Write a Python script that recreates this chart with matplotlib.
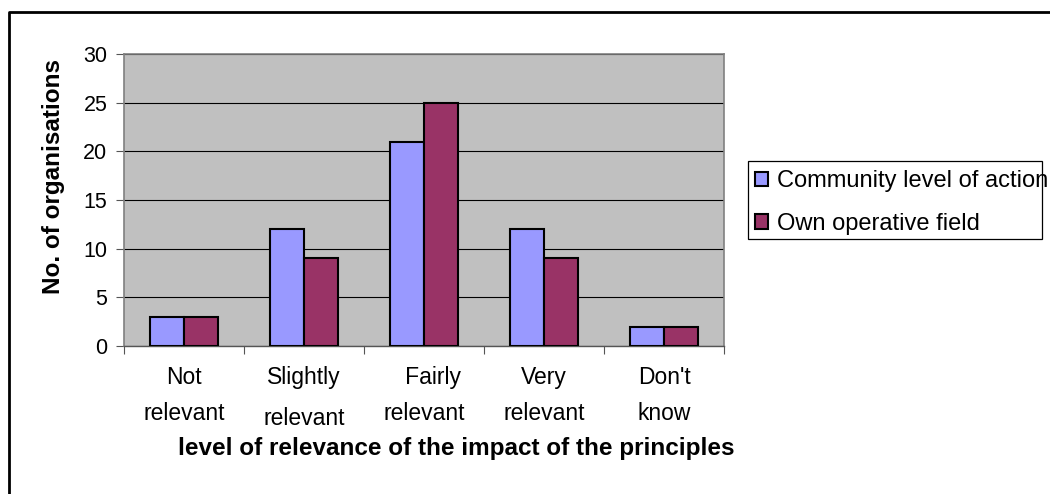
import matplotlib
matplotlib.use("Agg")
import matplotlib.pyplot as plt
import numpy as np
from matplotlib.lines import Line2D
from matplotlib.patches import Rectangle

plt.rcParams['font.family'] = ['Liberation Sans', 'DejaVu Sans']

categories = ["Not\nrelevant", "Slightly\nrelevant", "   Fairly\nrelevant", "Very\nrelevant", "Don't\nknow"]
series_names = ["Community level of action", "Own operative field"]
community = [3, 12, 21, 12, 2]
own_field = [3, 9, 25, 9, 2]
y_ticks = [0, 5, 10, 15, 20, 25, 30]

W, H = 1050, 494
fig = plt.figure(figsize=(W / 100, H / 100), dpi=100)
ax = fig.add_axes([124 / W, 1 - 346 / H, 600 / W, 292 / H])
ax.set_facecolor('#C0C0C0')

x = np.arange(len(categories))
bw = 0.285
ax.bar(x - bw / 2, community, bw, color='#9999FF', edgecolor='black', linewidth=1.5,
       label=series_names[0], zorder=3)
ax.bar(x + bw / 2, own_field, bw, color='#993366', edgecolor='black', linewidth=1.5,
       label=series_names[1], zorder=3)

ax.set_xlim(-0.5, len(categories) - 0.5)
ax.set_ylim(0, 30)
ax.set_yticks(y_ticks)
ax.set_yticklabels([str(v) for v in y_ticks], fontsize=15.5)
ax.yaxis.grid(True, color='#000000', linewidth=0.8, zorder=1)
ax.set_axisbelow(True)

ax.set_xticks(np.arange(-0.5, len(categories), 1.0))
ax.set_xticklabels([])
ax.set_xticks(x, minor=True)
ax.set_xticklabels(categories, minor=True, fontsize=16.5, linespacing=1.7)
ax.tick_params(axis='x', which='minor', length=0, pad=14.5)
ax.tick_params(axis='x', which='major', length=6, width=0.8, direction='out', color='#555555')
ax.tick_params(axis='y', length=6, width=0.8, direction='out', color='#555555', pad=6)
for lbl in ax.get_xticklabels(minor=True):
    if lbl.get_text().startswith("Slightly"):
        lbl.set_linespacing(2.0)

for s in ['left', 'right', 'top']:
    ax.spines[s].set_color('#808080')
    ax.spines[s].set_linewidth(1.2)
ax.spines['bottom'].set_color('#555555')
ax.spines['bottom'].set_linewidth(1.0)

ax.set_ylabel("No. of organisations", fontsize=17.5, fontweight='bold')
ax.yaxis.set_label_coords(-0.098, 0.579)
ax.set_xlabel("level of relevance of the impact of the principles", fontsize=17.5,
              fontweight='bold', va='top')
ax.xaxis.set_label_coords(0.553, -0.31)

# legend
leg = fig.legend(loc='upper left', bbox_to_anchor=(755 / W, 1 - 170 / H), frameon=False,
                 fontsize=17, handlelength=0.55, handleheight=0.55, handletextpad=0.38,
                 labelspacing=0.88, borderpad=0, borderaxespad=0)
for h in leg.legend_handles:
    h.set_linewidth(1.5)
fig.add_artist(Rectangle((748 / W, 1 - 239 / H), 294 / W, 78 / H, transform=fig.transFigure,
                         fill=False, edgecolor='black', linewidth=0.9, zorder=5))

# outer border
fig.add_artist(Line2D([9 / W, 9 / W, 1.0], [0.0, 1 - 12 / H, 1 - 12 / H],
                      transform=fig.transFigure, color='black', linewidth=2.0))

fig.savefig("out.png", dpi=100)
